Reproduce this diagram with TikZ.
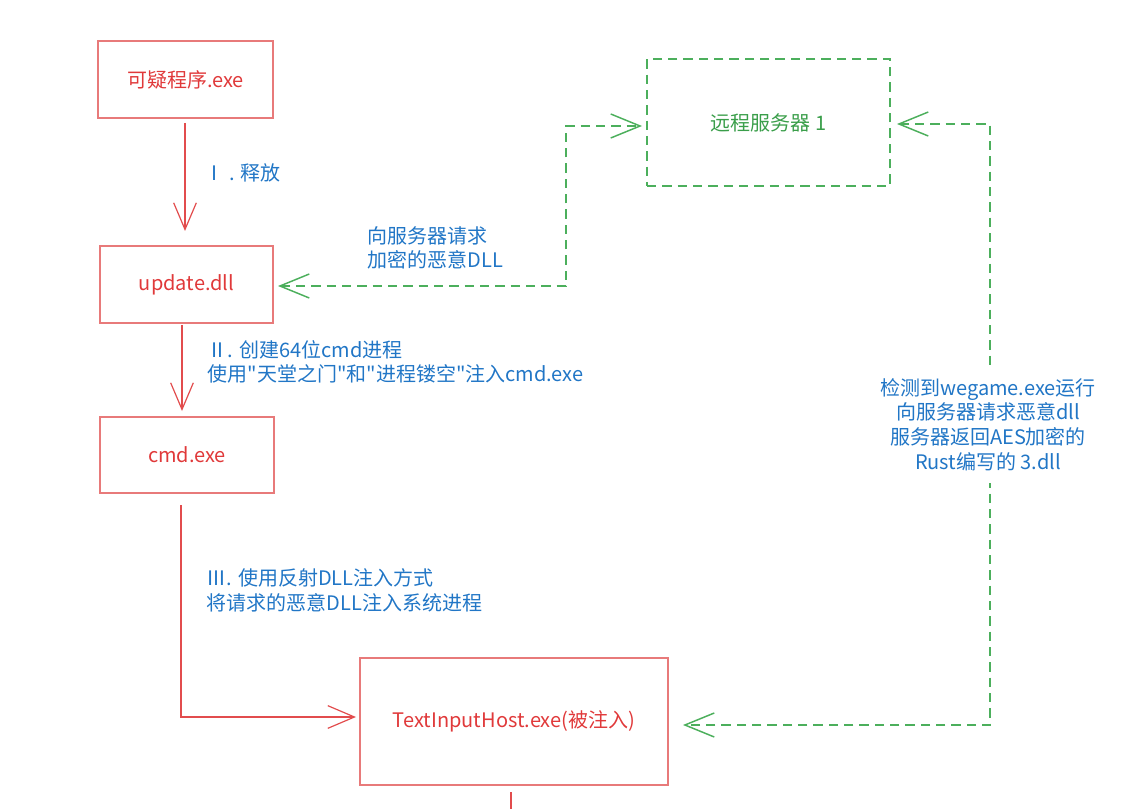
\documentclass[tikz,border=0pt]{standalone}
\usepackage{fontspec}
\newfontfamily\cjkf{Noto Sans CJK SC}
\usetikzlibrary{arrows.meta}
\definecolor{boxred}{HTML}{E87A7A}
\definecolor{txtred}{HTML}{E0393A}
\definecolor{txtblue}{HTML}{2176C6}
\definecolor{grn}{HTML}{4CAF5C}
\definecolor{txtgrn}{HTML}{3A9E4A}
\tikzset{
  redbox/.style={draw=boxred, line width=1pt, text=txtred, font=\cjkf\fontsize{15}{18}\selectfont, inner sep=0pt},
  srvbox/.style={draw=grn, line width=1.1pt, dash pattern=on 7pt off 4.5pt, text=txtgrn, font=\cjkf\fontsize{15}{18}\selectfont, inner sep=0pt},
  redarrow/.style={draw=txtred!70!boxred, line width=0.9pt, -{Straight Barb[length=20pt,width=17pt]}},
  redline/.style={draw=txtred!70!boxred, line width=0.9pt},
  grnarrow/.style={draw=grn, line width=1.1pt, dash pattern=on 7pt off 4.5pt, {Straight Barb[length=22pt,width=18pt]}-{Straight Barb[length=22pt,width=18pt]}},
  lbl/.style={text=txtblue, font=\cjkf\fontsize{15}{18.5}\selectfont, inner sep=1pt, align=left},
}
\begin{document}
\begin{tikzpicture}[x=0.75pt,y=-0.75pt]
\useasboundingbox (0,0) rectangle (1121,809);
% boxes
\node[redbox, minimum width=131.25pt, minimum height=57.75pt] (b1) at (185.5,79.5) {可疑程序.exe};
\node[redbox, minimum width=129.75pt, minimum height=57.75pt] (b2) at (186.5,284.5) {update.dll};
\node[redbox, minimum width=130.5pt, minimum height=57pt] (b3) at (187,455) {cmd.exe};
\node[redbox, minimum width=231pt, minimum height=95.25pt] (b4) at (514,721.5) {TextInputHost.exe(被注入)};
\node[srvbox, minimum width=182.25pt, minimum height=95.25pt] (srv) at (768.5,122.5) {远程服务器 1};
% coordinates
\coordinate (a1s) at (185,123);
\coordinate (a1e) at (185,231);
\coordinate (a2s) at (182,325);
\coordinate (a2e) at (182,411);
\coordinate (a3s) at (181,505);
\coordinate (a3c) at (181,717);
\coordinate (a3e) at (356,717);
\coordinate (gl1) at (278,286);
\coordinate (gl2) at (566,286);
\coordinate (gl3) at (566,126);
\coordinate (gl4) at (642,126);
\coordinate (gr1) at (897,124);
\coordinate (gr2) at (990,124);
\coordinate (gr3) at (990,725);
\coordinate (gr4) at (683,725);
\coordinate (bt1) at (511,792);
\coordinate (bt2) at (511,809);
% red connectors
\draw[redarrow] (a1s) -- (a1e);
\draw[redarrow] (a2s) -- (a2e);
\draw[redarrow] (a3s) -- (a3c) -- (a3e);
\draw[redline] (bt1) -- (bt2);
% green connectors
\draw[grnarrow] (gl1) -- (gl2) -- (gl3) -- (gl4);
\draw[grnarrow] (gr1) -- (gr2) -- (gr3) -- (gr4);
% labels
\node[lbl, anchor=west] (l1) at (203,173) {Ⅰ . 释放};
\node[lbl, anchor=west] (l2) at (206,362) {Ⅱ. 创建64位cmd进程\\使用"天堂之门"和"进程镂空"注入cmd.exe};
\node[lbl, anchor=west] (l3) at (205,590.5) {Ⅲ. 使用反射DLL注入方式\\将请求的恶意DLL注入系统进程};
\node[lbl, anchor=west] (l4) at (366,248) {向服务器请求\\加密的恶意DLL};
\node[lbl, align=center, fill=white, inner xsep=4pt, inner ysep=9pt] (l5) at (988,424.5) {检测到wegame.exe运行\\向服务器请求恶意dll\\服务器返回AES加密的\\ Rust编写的 3.dll};
\end{tikzpicture}
\end{document}
